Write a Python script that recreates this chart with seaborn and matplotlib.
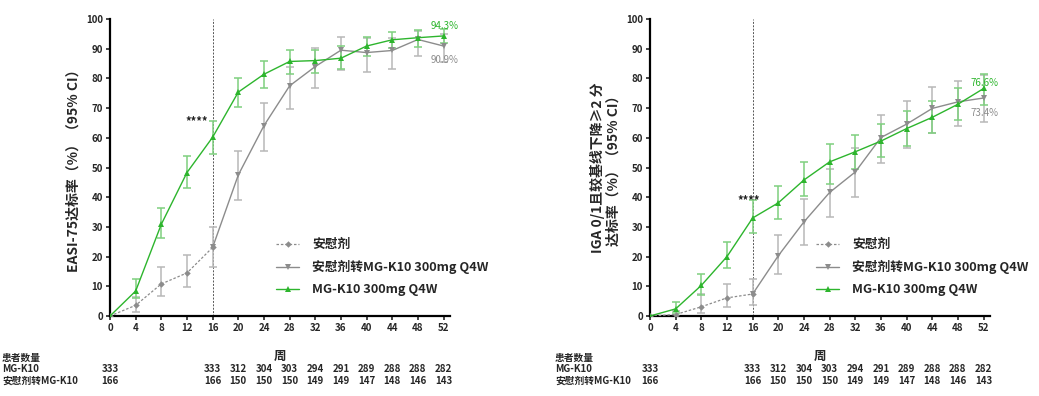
import numpy as np
import pandas as pd
import matplotlib
matplotlib.use("Agg")
import matplotlib.pyplot as plt
import seaborn as sns

sns.set_theme(style="white")
plt.rcParams['font.family'] = ['Noto Sans CJK SC', 'DejaVu Sans']
plt.rcParams['axes.unicode_minus'] = False

GREEN = "#2db52d"
GREEN_ERR = "#7fd07f"
GREY = "#8c8c8c"
GREY_ERR = "#b8b8b8"

# weeks
weeks_pbo = [0, 4, 8, 12, 16]
weeks_sw = [16, 20, 24, 28, 32, 36, 40, 44, 48, 52]
weeks_mg = [0, 4, 8, 12, 16, 20, 24, 28, 32, 36, 40, 44, 48, 52]

# EASI-75
easi_mg = [0, 8.4, 30.9, 48.3, 60.2, 75.4, 81.4, 85.7, 86.0, 86.8, 90.9, 93.0, 93.7, 94.3]
easi_mg_lo = [0, 6.0, 26.1, 43.0, 54.6, 70.4, 76.7, 81.4, 81.7, 83.1, 87.5, 90.4, 90.5, 91.8]
easi_mg_hi = [0, 12.4, 36.3, 54.0, 65.6, 80.3, 85.7, 89.5, 89.6, 90.8, 94.0, 95.7, 96.4, 96.7]
easi_pbo = [0, 3.6, 10.8, 14.5, 23.1]
easi_pbo_lo = [0, 1.5, 6.6, 9.7, 16.6]
easi_pbo_hi = [0, 6.3, 16.6, 20.7, 30.1]
easi_sw = [23.1, 47.5, 64.1, 77.5, 84.0, 89.5, 88.7, 89.4, 93.1, 90.9]
easi_sw_lo = [23.1, 39.0, 55.7, 69.7, 76.9, 82.8, 82.2, 83.0, 87.7, 85.6]
easi_sw_hi = [23.1, 55.5, 71.6, 84.0, 90.1, 93.9, 93.7, 93.7, 95.9, 95.0]

# IGA 0/1
iga_mg = [0, 2.4, 10.3, 20.0, 33.0, 38.1, 45.8, 51.9, 55.3, 58.9, 63.1, 66.9, 71.3, 76.6]
iga_mg_lo = [0, 0.9, 7.0, 16.0, 28.0, 32.7, 40.3, 44.6, 49.5, 53.4, 57.4, 61.5, 66.0, 71.2]
iga_mg_hi = [0, 4.6, 14.3, 25.0, 38.9, 43.9, 51.8, 57.8, 61.1, 64.8, 69.0, 72.5, 76.6, 81.5]
iga_pbo = [0, 0.5, 3.1, 6.1, 7.4]
iga_pbo_lo = [0, 0.0, 1.1, 3.1, 3.7]
iga_pbo_hi = [0, 1.7, 7.3, 10.8, 12.5]
iga_sw = [7.4, 20.3, 31.7, 41.6, 48.5, 60.1, 64.6, 69.9, 72.1, 73.4]
iga_sw_lo = [7.4, 14.0, 24.0, 33.5, 40.0, 51.6, 56.4, 61.5, 63.9, 65.4]
iga_sw_hi = [7.4, 27.3, 39.4, 49.5, 56.6, 67.6, 72.4, 77.0, 79.1, 81.0]

# patients at risk
n_weeks = [0, 16, 20, 24, 28, 32, 36, 40, 44, 48, 52]
n_mg = [333, 333, 312, 304, 303, 294, 291, 289, 288, 288, 282]
n_sw = [166, 166, 150, 150, 150, 149, 149, 147, 148, 146, 143]

LBL_PBO = "安慰剂"
LBL_SW = "安慰剂转MG-K10 300mg Q4W"
LBL_MG = "MG-K10 300mg Q4W"


def draw_panel(ax, pbo, sw, mg, ylabel, star_xy, star_ha, end_mg, end_sw, fig, row_x):
    df = pd.concat([
        pd.DataFrame({"week": weeks_pbo, "rate": pbo[0], "group": LBL_PBO}),
        pd.DataFrame({"week": weeks_sw, "rate": sw[0], "group": LBL_SW}),
        pd.DataFrame({"week": weeks_mg, "rate": mg[0], "group": LBL_MG}),
    ])
    ax.axvline(16, color="#555555", lw=0.7, ls=(0, (2, 1.5)), zorder=1)

    # error bars
    for w, (v, lo, hi), c in [(weeks_pbo, pbo, GREY_ERR), (weeks_sw, sw, GREY_ERR),
                              (weeks_mg, mg, GREEN_ERR)]:
        v = np.array(v); lo = np.array(lo); hi = np.array(hi)
        ax.errorbar(w[1:], v[1:], yerr=[v[1:] - lo[1:], hi[1:] - v[1:]], fmt="none",
                    ecolor=c, elinewidth=1.1, capsize=3, capthick=1.1, zorder=2)

    sns.lineplot(data=df, x="week", y="rate", hue="group", style="group",
                 hue_order=[LBL_PBO, LBL_SW, LBL_MG],
                 palette={LBL_PBO: GREY, LBL_SW: GREY, LBL_MG: GREEN},
                 dashes={LBL_PBO: (2, 1.5), LBL_SW: "", LBL_MG: ""},
                 markers={LBL_PBO: "D", LBL_SW: "v", LBL_MG: "^"},
                 markersize=5, markeredgewidth=0, linewidth=1.0,
                 errorbar=None, ax=ax, zorder=3)
    for ln in ax.lines:
        if ln.get_marker() == "D":
            ln.set_markersize(3.3)
            ln.set_linewidth(0.9)

    ax.set_xlim(0, 53)
    ax.set_ylim(0, 100)
    ax.set_xticks(range(0, 53, 4))
    ax.set_yticks(range(0, 101, 10))
    for lab in ax.get_xticklabels() + ax.get_yticklabels():
        lab.set_fontweight("bold")
        lab.set_fontsize(7)
    ax.tick_params(axis="both", direction="out", length=3, width=1.2, pad=2,
                   bottom=True, left=True)
    for s in ["top", "right"]:
        ax.spines[s].set_visible(False)
    for s in ["left", "bottom"]:
        ax.spines[s].set_linewidth(1.6)
        ax.spines[s].set_color("black")
    ax.set_xlabel("周", fontsize=9, fontweight="bold", labelpad=12)
    ax.set_ylabel(ylabel, fontsize=10, fontweight="bold", labelpad=4,
                  linespacing=1.1)

    leg = ax.legend(loc="center left", bbox_to_anchor=(0.455, 0.165), frameon=False,
                    fontsize=9.2, handlelength=1.8, labelspacing=0.7, handletextpad=1.0)
    for t in leg.get_texts():
        t.set_fontweight("bold")
    for h in leg.get_lines():
        if h.get_marker() == "D":
            h.set_markersize(3.3)

    ax.text(star_xy[0], star_xy[1], "****", ha=star_ha, va="center", fontsize=8,
            fontweight="bold", color="#222222")
    ax.text(52.1, end_mg[1], end_mg[0], ha="center", va="center", fontsize=7, color=GREEN)
    ax.text(52.1, end_sw[1], end_sw[0], ha="center", va="center", fontsize=7, color=GREY)

    # patients at risk table
    trans = ax.get_xaxis_transform()
    fig.text(row_x, (396 - 358) / 396, "患者数量", fontsize=7, fontweight="bold", va="center")
    fig.text(row_x, (396 - 369) / 396, "MG-K10", fontsize=7, fontweight="bold", va="center")
    fig.text(row_x, (396 - 381) / 396, "安慰剂转MG-K10", fontsize=7, fontweight="bold", va="center")
    for w, a, b in zip(n_weeks, n_mg, n_sw):
        ax.text(w, -0.178, str(a), transform=trans, ha="center", va="center",
                fontsize=7, fontweight="bold")
        ax.text(w, -0.219, str(b), transform=trans, ha="center", va="center",
                fontsize=7, fontweight="bold")


fig = plt.figure(figsize=(10.39, 3.96), dpi=100)
ax1 = fig.add_axes([110 / 1039, 80 / 396, 340 / 1039, 297 / 396])
ax2 = fig.add_axes([650 / 1039, 80 / 396, 340 / 1039, 297 / 396])

draw_panel(ax1, (easi_pbo, easi_pbo_lo, easi_pbo_hi), (easi_sw, easi_sw_lo, easi_sw_hi),
           (easi_mg, easi_mg_lo, easi_mg_hi), "EASI-75达标率（%）（95% CI）",
           (15.3, 65.3), "right", ("94.3%", 97.6), ("90.9%", 86.2), fig, 2 / 1039)
draw_panel(ax2, (iga_pbo, iga_pbo_lo, iga_pbo_hi), (iga_sw, iga_sw_lo, iga_sw_hi),
           (iga_mg, iga_mg_lo, iga_mg_hi), "IGA 0/1且较基线下降≥2 分\n达标率（%）（95% CI）",
           (15.4, 38.8), "center", ("76.6%", 78.3), ("73.4%", 68.4), fig, 555 / 1039)

fig.savefig("out.png", dpi=100)
